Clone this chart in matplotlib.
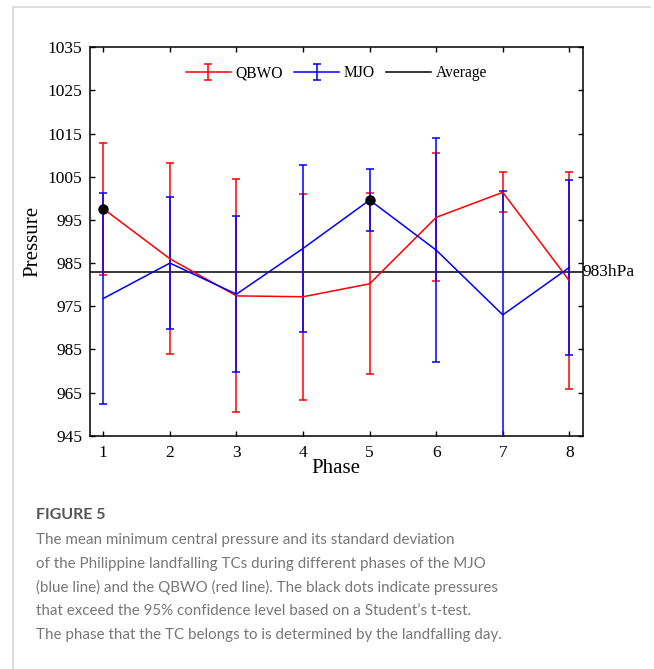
import numpy as np
import matplotlib
matplotlib.use('Agg')
import matplotlib.pyplot as plt
from matplotlib.lines import Line2D

# data
phases = [1, 2, 3, 4, 5, 6, 7, 8]
qbwo_mean = [997.6, 986.0, 977.4, 977.2, 980.2, 995.6, 1001.4, 980.9]
qbwo_std = [15.3, 22.1, 27.0, 23.9, 21.0, 14.8, 4.6, 25.1]
mjo_mean = [976.8, 985.0, 977.8, 988.4, 999.6, 988.0, 973.0, 984.0]
mjo_std = [24.5, 15.3, 18.0, 19.3, 7.2, 26.0, 28.6, 20.3]
average = 983
sig_phase = [1, 5]
sig_value = [997.6, 999.6]

ytick_pos = [945, 955, 965, 975, 985, 995, 1005, 1015, 1025, 1035]
ytick_lab = ['945', '965', '985', '975', '985', '995', '1005', '1015', '1025', '1035']

caption_title = "FIGURE 5"
caption_lines = [
    "The mean minimum central pressure and its standard deviation",
    "of the Philippine landfalling TCs during different phases of the MJO",
    "(blue line) and the QBWO (red line). The black dots indicate pressures",
    "that exceed the 95% confidence level based on a Student\u2019s t-test.",
    "The phase that the TC belongs to is determined by the landfalling day.",
]

serif = ['Liberation Serif', 'DejaVu Serif']

fig = plt.figure(figsize=(6.54, 6.69), dpi=100)
ax = fig.add_axes([0.1376, 0.3487, 0.7534, 0.5806])

h1 = ax.errorbar(phases, qbwo_mean, yerr=qbwo_std, color='#ff0000', lw=1.1,
                 capsize=2.8, capthick=1.1, label='QBWO', zorder=3)
h2 = ax.errorbar(phases, mjo_mean, yerr=mjo_std, color='#0000ff', lw=1.1,
                 capsize=2.8, capthick=1.1, label='MJO', zorder=3)
h3 = ax.axhline(average, color='black', lw=1.1, label='Average', zorder=2)
ax.plot(sig_phase, sig_value, 'o', color='black', ms=6.5, zorder=5)

ax.set_xlim(0.8, 8.2)
ax.set_ylim(945, 1035)
ax.set_xticks(phases)
ax.set_yticks(ytick_pos)
ax.set_yticklabels(ytick_lab)
ax.tick_params(direction='in', length=3.5, width=1, top=True, right=True,
               labelsize=12.5)
ax.tick_params(axis='y', pad=5.5)
ax.tick_params(axis='x', pad=7)
for lab in ax.get_xticklabels() + ax.get_yticklabels():
    lab.set_family(serif)
for sp in ax.spines.values():
    sp.set_linewidth(1.1)

ax.set_xlabel('Phase', family=serif, fontsize=15, labelpad=-2)
ax.set_ylabel('Pressure', family=serif, fontsize=15, labelpad=4)

ax.text(8.2, average, '983hPa', family=serif, fontsize=12.5,
        va='center', ha='left')

ax.legend([h1, h2, h3], ['QBWO', 'MJO', 'Average'], loc='upper center',
          ncol=3, frameon=False, prop={'family': serif, 'size': 11.2},
          handlelength=2.9, handletextpad=0.3, columnspacing=0.7,
          bbox_to_anchor=(0.5, 0.99))

# page frame lines
fig.add_artist(Line2D([13 / 654, 13 / 654], [0, 1 - 7 / 669],
                      color='#d9d9d9', lw=1.2))
fig.add_artist(Line2D([13 / 654, 650 / 654], [1 - 7 / 669, 1 - 7 / 669],
                      color='#d9d9d9', lw=1.2))

# caption
cap_font = ['Lato', 'DejaVu Sans']
fig.text(36 / 654, 1 - 515 / 669, caption_title, family=cap_font,
         fontsize=11.5, weight='bold', color='#555555', va='center')
for i, line in enumerate(caption_lines):
    fig.text(36 / 654, 1 - (540 + i * 23.7) / 669, line, family=cap_font,
             fontsize=10.9, color='#777777', va='center')

fig.savefig('out.png', dpi=100)
